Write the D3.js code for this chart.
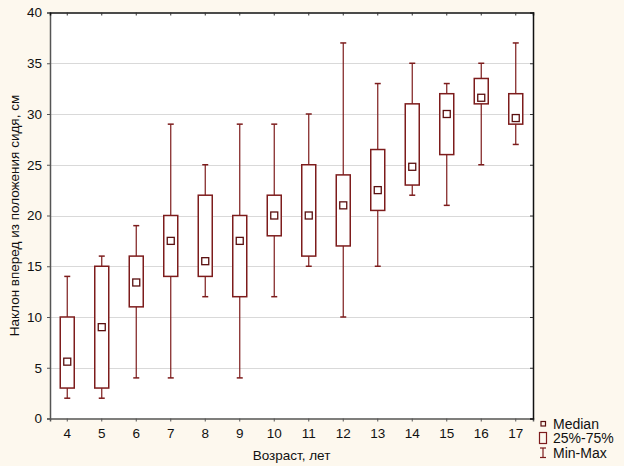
<!DOCTYPE html>
<html lang="ru">
<head>
    <meta charset="UTF-8">
    <title>Наклон вперед</title>
    <script src="https://cdn.jsdelivr.net/npm/d3@7"></script>
    <style>
        body { margin: 0; background: #fdf8ee; }
        text { font-family: "Liberation Sans", Arial, sans-serif; fill: #111; }
    </style>
</head>
<body>
<script>
    // data
    var ages    = ["4","5","6","7","8","9","10","11","12","13","14","15","16","17"];
    var mins    = [2, 2, 4, 4, 12, 4, 12, 15, 10, 15, 22, 21, 25, 27];
    var q1s     = [3, 3, 11, 14, 14, 12, 18, 16, 17, 20.5, 23, 26, 31, 29];
    var medians = [5.6, 9, 13.4, 17.5, 15.5, 17.5, 20, 20, 21, 22.5, 24.8, 30, 31.6, 29.6];
    var q3s     = [10, 15, 16, 20, 22, 20, 22, 25, 24, 26.5, 31, 32, 33.5, 32];
    var maxs    = [14, 16, 19, 29, 25, 29, 29, 30, 37, 33, 35, 33, 35, 37];
    var yTicks  = [0, 5, 10, 15, 20, 25, 30, 35, 40];

    var width = 624, height = 466;
    var plot = {left: 50, top: 12.5, right: 533, bottom: 418.5};
    var boxColor = "#7d1c1c";
    var fontSize = "13.5px";

    var svg = d3.select("body").append("svg").attr("width", width).attr("height", height);

    var x = d3.scaleBand().domain(ages).range([plot.left, plot.right]).padding(0);
    var y = d3.scaleLinear().domain([0, 40]).range([plot.bottom, plot.top]);

    // plot background
    svg.append("rect")
        .attr("x", plot.left).attr("y", plot.top)
        .attr("width", plot.right - plot.left).attr("height", plot.bottom - plot.top)
        .attr("fill", "#fff");

    // grid
    svg.append("g").selectAll("line").data(yTicks.slice(1, -1)).enter().append("line")
        .attr("x1", plot.left).attr("x2", plot.right)
        .attr("y1", function(d){ return Math.round(y(d)) + 0.5; })
        .attr("y2", function(d){ return Math.round(y(d)) + 0.5; })
        .attr("stroke", "#d9d9d9").attr("stroke-width", 1);

    // axes
    var axLeft = svg.append("g").attr("transform", "translate(" + plot.left + ",0)")
        .call(d3.axisLeft(y).tickValues(yTicks).tickSize(3).tickPadding(5));
    var axBottom = svg.append("g").attr("transform", "translate(0," + plot.bottom + ")")
        .call(d3.axisBottom(x).tickSize(3).tickPadding(7));
    var axTop = svg.append("g").attr("transform", "translate(0," + plot.top + ")")
        .call(d3.axisBottom(x).tickSize(3).tickFormat(""));
    var axRight = svg.append("g").attr("transform", "translate(" + plot.right + ",0)")
        .call(d3.axisLeft(y).tickValues(yTicks).tickSize(3).tickFormat(""));

    [axLeft, axBottom].forEach(function(g){
        g.select(".domain").attr("stroke", "#555").attr("stroke-width", 1.5);
        g.selectAll(".tick line").attr("stroke", "#555");
        g.selectAll("text").style("font-size", fontSize).attr("fill", "#111")
            .style("font-family", "'Liberation Sans', Arial, sans-serif");
    });
    [axTop, axRight].forEach(function(g){
        g.select(".domain").attr("stroke", "#111").attr("stroke-width", 1.5);
        g.selectAll(".tick line").attr("stroke", "#333");
    });

    // boxes
    var boxW = 14, capW = 6;
    var groups = svg.append("g").selectAll("g").data(ages).enter().append("g")
        .attr("transform", function(d){ return "translate(" + (x(d) + x.bandwidth() / 2) + ",0)"; });

    groups.append("line")
        .attr("x1", 0).attr("x2", 0)
        .attr("y1", function(d, i){ return y(maxs[i]); })
        .attr("y2", function(d, i){ return y(mins[i]); })
        .attr("stroke", boxColor).attr("stroke-width", 1.2);
    groups.append("line")
        .attr("x1", -capW / 2).attr("x2", capW / 2)
        .attr("y1", function(d, i){ return y(maxs[i]); })
        .attr("y2", function(d, i){ return y(maxs[i]); })
        .attr("stroke", boxColor).attr("stroke-width", 1.5);
    groups.append("line")
        .attr("x1", -capW / 2).attr("x2", capW / 2)
        .attr("y1", function(d, i){ return y(mins[i]); })
        .attr("y2", function(d, i){ return y(mins[i]); })
        .attr("stroke", boxColor).attr("stroke-width", 1.5);
    groups.append("rect")
        .attr("x", -boxW / 2).attr("width", boxW)
        .attr("y", function(d, i){ return y(q3s[i]); })
        .attr("height", function(d, i){ return y(q1s[i]) - y(q3s[i]); })
        .attr("fill", "#fff").attr("stroke", boxColor).attr("stroke-width", 1.5);
    groups.append("rect")
        .attr("x", -3.5).attr("width", 7)
        .attr("y", function(d, i){ return y(medians[i]) - 3.5; })
        .attr("height", 7)
        .attr("fill", "#fff").attr("stroke", "#5a0f0f").attr("stroke-width", 1.3);

    // axis titles
    svg.append("text")
        .attr("x", (plot.left + plot.right) / 2).attr("y", 460)
        .attr("text-anchor", "middle").style("font-size", fontSize)
        .text("Возраст, лет");
    svg.append("text")
        .attr("transform", "translate(19," + ((plot.top + plot.bottom) / 2) + ") rotate(-90)")
        .attr("text-anchor", "middle").style("font-size", fontSize)
        .text("Наклон вперед из положения сидя, см");

    // legend
    var lg = svg.append("g").attr("transform", "translate(537,418)");
    lg.append("rect").attr("x", 4).attr("y", 3.5).attr("width", 4.5).attr("height", 4.5)
        .attr("fill", "none").attr("stroke", "#5a0f0f").attr("stroke-width", 1.2);
    lg.append("text").attr("x", 16).attr("y", 10.5).style("font-size", "14px").text("Median");
    lg.append("rect").attr("x", 2.5).attr("y", 14.5).attr("width", 7).attr("height", 11)
        .attr("fill", "none").attr("stroke", boxColor).attr("stroke-width", 1.2);
    lg.append("text").attr("x", 16).attr("y", 25).style("font-size", "14px").text("25%-75%");
    lg.append("line").attr("x1", 6).attr("x2", 6).attr("y1", 30).attr("y2", 39.5)
        .attr("stroke", boxColor).attr("stroke-width", 1.2);
    lg.append("line").attr("x1", 3).attr("x2", 9).attr("y1", 30).attr("y2", 30)
        .attr("stroke", boxColor).attr("stroke-width", 1.2);
    lg.append("line").attr("x1", 3).attr("x2", 9).attr("y1", 39.5).attr("y2", 39.5)
        .attr("stroke", boxColor).attr("stroke-width", 1.2);
    lg.append("text").attr("x", 16).attr("y", 39.5).style("font-size", "14px").text("Min-Max");
</script>
</body>
</html>
